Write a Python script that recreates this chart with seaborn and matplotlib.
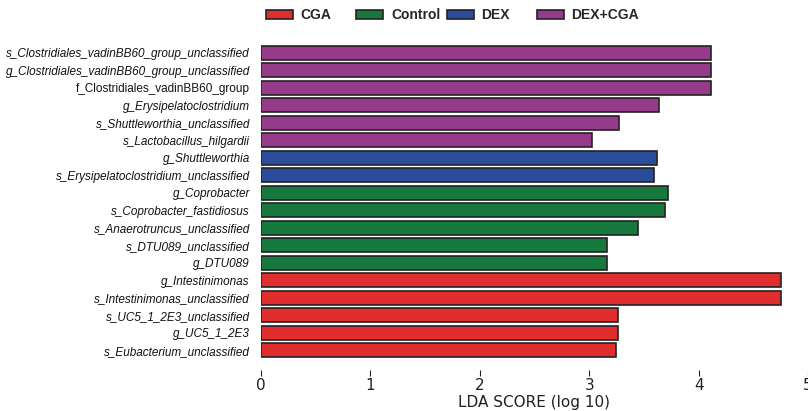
import matplotlib
matplotlib.use("Agg")
import matplotlib.pyplot as plt
import seaborn as sns
import pandas as pd
from matplotlib.patches import Patch

taxa = [
    "s_Clostridiales_vadinBB60_group_unclassified",
    "g_Clostridiales_vadinBB60_group_unclassified",
    "f_Clostridiales_vadinBB60_group",
    "g_Erysipelatoclostridium",
    "s_Shuttleworthia_unclassified",
    "s_Lactobacillus_hilgardii",
    "g_Shuttleworthia",
    "s_Erysipelatoclostridium_unclassified",
    "g_Coprobacter",
    "s_Coprobacter_fastidiosus",
    "s_Anaerotruncus_unclassified",
    "s_DTU089_unclassified",
    "g_DTU089",
    "g_Intestinimonas",
    "s_Intestinimonas_unclassified",
    "s_UC5_1_2E3_unclassified",
    "g_UC5_1_2E3",
    "s_Eubacterium_unclassified",
]
groups = (["DEX+CGA"] * 6 + ["DEX"] * 2 + ["Control"] * 5 + ["CGA"] * 5)
lda = [4.11, 4.11, 4.11, 3.635, 3.27, 3.03, 3.62, 3.59,
       3.72, 3.69, 3.45, 3.16, 3.16, 4.756, 4.756, 3.26, 3.26, 3.245]

legend_order = ["CGA", "Control", "DEX", "DEX+CGA"]
palette = {"CGA": "#E02E2E", "Control": "#18793F", "DEX": "#2B4C9B", "DEX+CGA": "#963A8C"}

df = pd.DataFrame({"taxon": taxa, "group": groups, "lda": lda})

sns.set_style("white")
plt.rcParams["font.family"] = ["DejaVu Sans"]

fig = plt.figure(figsize=(8.08, 4.11), dpi=100)
ax = fig.add_axes([261 / 808, 1 - 359 / 411, (808 - 261) / 808, (359 - 44) / 411])

sns.barplot(data=df, y="taxon", x="lda", hue="group", order=taxa,
            hue_order=legend_order, palette=palette, dodge=False, saturation=1,
            orient="h", width=0.8, edgecolor="#222222", linewidth=1.2,
            legend=False, ax=ax)

ax.set_xlim(0, 5)
ax.set_ylim(len(taxa) - 0.5, -0.5)
for s in ax.spines.values():
    s.set_visible(False)
ax.spines["bottom"].set_position(("outward", 8))
ax.set_ylabel("")
ax.set_xlabel("LDA SCORE (log 10)", fontsize=11, labelpad=1, color="#222222")
ax.set_xticks([0, 1, 2, 3, 4, 5])
ax.tick_params(axis="x", bottom=True, length=4, width=0.8, labelsize=11, pad=2,
               direction="out", colors="#222222")
ax.tick_params(axis="y", length=0, pad=8)
ax.set_yticks(range(len(taxa)))
ax.set_yticklabels(taxa)
for lbl, name in zip(ax.get_yticklabels(), taxa):
    lbl.set_fontfamily("Liberation Sans")
    lbl.set_fontsize(8.5)
    lbl.set_color("#111111")
    if not name.startswith("f_"):
        lbl.set_fontstyle("italic")

for i, g in enumerate(legend_order):
    h = Patch(facecolor=palette[g], edgecolor="#222222", linewidth=1.2, label=g)
    fig.legend(handles=[h], loc="center left",
               bbox_to_anchor=((266 + i * 90.3) / 808, 1 - 15 / 411),
               frameon=False, handlelength=1.95, handleheight=0.6,
               handletextpad=0.55, borderpad=0, borderaxespad=0,
               prop={"family": "Liberation Sans", "weight": "bold", "size": 10})

fig.savefig("out.png", dpi=100)
